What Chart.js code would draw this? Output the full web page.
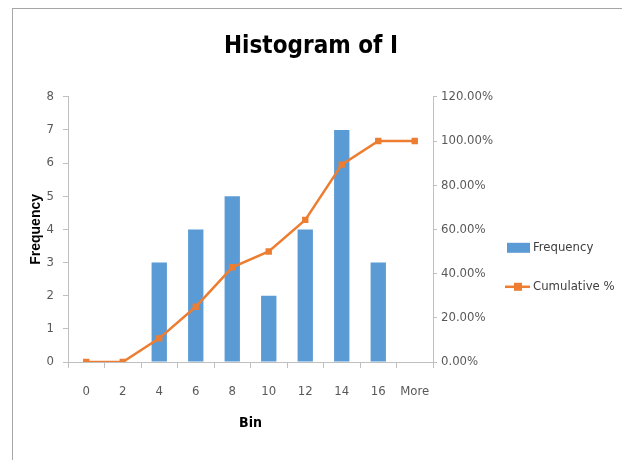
<!DOCTYPE html>
<html>
<head>
<meta charset="utf-8">
<script src="https://cdn.jsdelivr.net/npm/chart.js@4/dist/chart.umd.min.js"></script>
<style>
  body { margin: 0; background: #fff; }
  .wrap { position: relative; width: 622px; height: 460px; }
  .frame { position: absolute; left: 12px; top: 8px; right: 0; bottom: 0;
           border-left: 1px solid #a6a6a6; border-top: 1px solid #a6a6a6; }
</style>
</head>
<body>
<div class="wrap">
  <div class="frame"></div>
  <canvas id="hist-chart"></canvas>
</div>
<script>
// Data
const bins = ['0', '2', '4', '6', '8', '10', '12', '14', '16', 'More']
const frequency = [0, 0, 3, 4, 5, 2, 4, 7, 3, 0]
const cumulative = [0, 0, 10.71, 25.00, 42.86, 50.00, 64.29, 89.29, 100, 100]
const freqTicks = [0, 1, 2, 3, 4, 5, 6, 7, 8]
const pctTicks = [0, 20, 40, 60, 80, 100, 120]

const narrow = "'Liberation Sans Narrow', 'DejaVu Sans Condensed', sans-serif"
const tickColor = '#595959'
const axisColor = '#bfbfbf'

// legend sits in the space to the right of the % axis
const sideLegend = {
    id: 'sideLegend',
    afterDraw(chart) {
        const ctx = chart.ctx
        const x = chart.chartArea.right + 74
        let y = chart.chartArea.top + 151
        ctx.save()
        ctx.font = '13px ' + narrow
        ctx.textBaseline = 'middle'
        chart.data.datasets.forEach(ds => {
            if (ds.type === 'bar') {
                ctx.fillStyle = ds.backgroundColor
                ctx.fillRect(x, y - 5, 23, 10)
            } else {
                ctx.strokeStyle = ds.borderColor
                ctx.lineWidth = 2.5
                ctx.beginPath()
                ctx.moveTo(x - 2, y)
                ctx.lineTo(x + 23, y)
                ctx.stroke()
                ctx.fillStyle = ds.borderColor
                ctx.fillRect(x + 7, y - 4, 8, 8)
            }
            ctx.fillStyle = '#404040'
            ctx.fillText(ds.label, x + 26, y)
            y += 39
        })
        ctx.restore()
    }
}

const canva = document.getElementById('hist-chart')

const histChart = new Chart(canva, {
    data: {
        labels: bins,
        datasets: [{
            type: 'bar',
            label: 'Frequency',
            data: frequency,
            backgroundColor: '#5b9bd5',
            barPercentage: 0.42,
            categoryPercentage: 1,
            yAxisID: 'y',
            order: 2
        }, {
            type: 'line',
            label: 'Cumulative %',
            data: cumulative,
            borderColor: '#ed7d31',
            backgroundColor: '#ed7d31',
            borderWidth: 2.5,
            pointStyle: 'rect',
            pointRadius: 4.5,
            pointBackgroundColor: '#ed7d31',
            pointBorderWidth: 0,
            tension: 0,
            yAxisID: 'y1',
            order: 1
        }]
    },
    options: {
        responsive: true,
        maintainAspectRatio: false,
        animation: false,
        layout: {
            padding: 0
        },
        plugins: {
            legend: { display: false },
            tooltip: { enabled: false },
            title: {
                display: true,
                text: 'Histogram of I',
                color: '#000',
                font: { family: narrow, size: 24, weight: 'bold' },
                padding: { top: 32, bottom: 36 }
            }
        },
        scales: {
            x: {
                offset: true,
                grid: {
                    offset: true,
                    drawOnChartArea: false,
                    drawTicks: true,
                    tickLength: 6,
                    color: axisColor
                },
                border: { color: axisColor },
                ticks: {
                    color: tickColor,
                    font: { family: narrow, size: 13 },
                    padding: 16,
                    maxRotation: 0
                },
                title: {
                    display: true,
                    text: 'Bin',
                    color: '#000',
                    font: { family: narrow, size: 14, weight: 'bold' },
                    padding: { top: 0, bottom: 28 }
                },
                afterFit(scale) { scale.height = 98 }
            },
            y: {
                position: 'left',
                min: 0,
                max: 8,
                afterBuildTicks(scale) { scale.ticks = freqTicks.map(v => ({ value: v })) },
                grid: {
                    drawOnChartArea: false,
                    drawTicks: true,
                    tickLength: 5,
                    color: axisColor
                },
                border: { color: axisColor },
                ticks: {
                    color: tickColor,
                    font: { family: narrow, size: 13 },
                    padding: 9
                },
                title: {
                    display: true,
                    text: 'Frequency',
                    color: '#000',
                    font: { family: "'Liberation Sans', Arial, sans-serif", size: 14, weight: 'bold' },
                    padding: { top: 28, bottom: 0 }
                },
                afterFit(scale) { scale.width = 68 }
            },
            y1: {
                position: 'right',
                min: 0,
                max: 120,
                afterBuildTicks(scale) { scale.ticks = pctTicks.map(v => ({ value: v })) },
                grid: {
                    drawOnChartArea: false,
                    drawTicks: true,
                    tickLength: 4,
                    color: axisColor
                },
                border: { color: axisColor },
                ticks: {
                    color: tickColor,
                    font: { family: narrow, size: 13 },
                    padding: 4,
                    callback: v => v.toFixed(2) + '%'
                },
                afterFit(scale) { scale.width = 189 }
            }
        }
    },
    plugins: [sideLegend]
})
</script>
</body>
</html>
